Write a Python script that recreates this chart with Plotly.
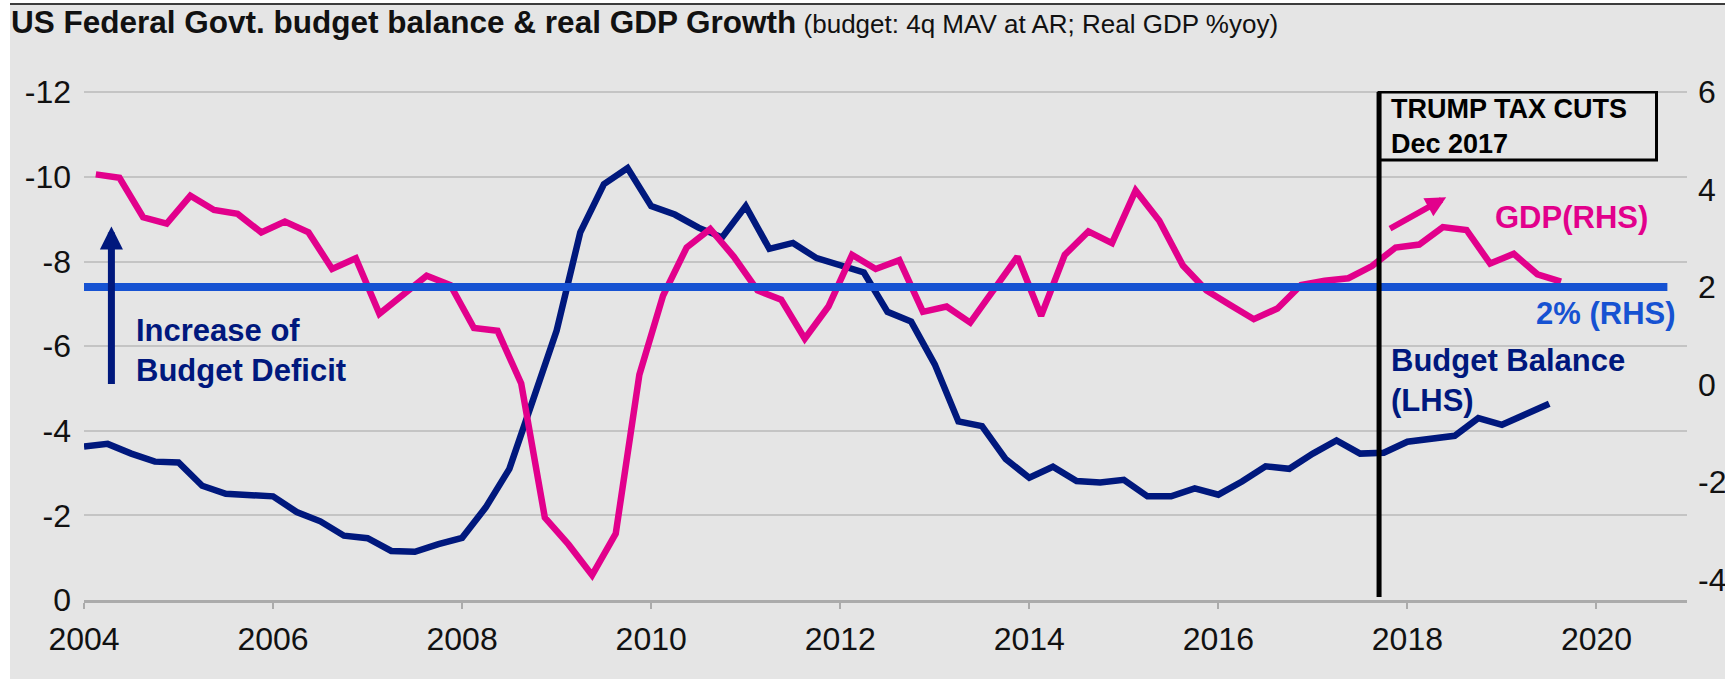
import plotly.graph_objects as go

# ---------------- data ----------------
QUARTERS = [f"{y}Q{q}" for y in range(2004, 2020) for q in range(1, 5)][:63]

# Federal budget balance, % of GDP, 4q moving average (LHS, inverted)
BUDGET_BALANCE = [
    -3.63, -3.69, -3.46, -3.27,
    -3.25, -2.70, -2.51, -2.49,
    -2.45, -2.08, -1.86, -1.52,
    -1.46, -1.16, -1.14, -1.32,
    -1.47, -2.19, -3.10, -4.73,
    -6.37, -8.69, -9.83, -10.21,
    -9.31, -9.11, -8.80, -8.57,
    -9.31, -8.30, -8.44, -8.08,
    -7.90, -7.74, -6.81, -6.58,
    -5.57, -4.22, -4.11, -3.33,
    -2.89, -3.15, -2.81, -2.78,
    -2.84, -2.45, -2.45, -2.64,
    -2.49, -2.80, -3.16, -3.10,
    -3.46, -3.77, -3.46, -3.48,
    -3.74, -3.81, -3.88, -4.30,
    -4.14, -4.39, -4.64,
]

# Real GDP growth, % y/y (RHS)
GDP_GROWTH = [
    4.31, 4.24, 3.43, 3.30,
    3.87, 3.58, 3.50, 3.12,
    3.34, 3.12, 2.37, 2.59,
    1.45, 1.85, 2.23, 2.04,
    1.16, 1.10, 0.02, -2.73,
    -3.28, -3.91, -3.06, 0.20,
    1.82, 2.81, 3.19, 2.62,
    1.93, 1.74, 0.94, 1.60,
    2.66, 2.37, 2.55, 1.49,
    1.60, 1.27, 1.93, 2.62,
    1.41, 2.66, 3.14, 2.90,
    3.98, 3.36, 2.44, 1.93,
    1.63, 1.34, 1.56, 2.04,
    2.13, 2.18, 2.43, 2.81,
    2.87, 3.23, 3.17, 2.48,
    2.68, 2.26, 2.11,
]

TARGET_GROWTH = 2.0
TARGET_SPAN = [2004.0, 2020.75]

X_TICKS = [2004, 2006, 2008, 2010, 2012, 2014, 2016, 2018, 2020]
LEFT_TICKS = [0, -2, -4, -6, -8, -10, -12]
RIGHT_TICKS = [-4, -2, 0, 2, 4, 6]

TAX_CUT_DATE = 2017.70

# positions: budget at quarter start, GDP at mid-quarter
budget_x = [int(q[:4]) + (int(q[-1]) - 1) / 4 for q in QUARTERS]
gdp_x = [v + 0.125 for v in budget_x]

# ---------------- style ----------------
W, H = 1725, 679
ML, MR, MT, MB = 84, 38, 91, 79
PW, PH = W - ML - MR, H - MT - MB
PX_PER_YEAR = 94.53

NAVY = "#00187D"
PINK = "#E2008C"
BLUE = "#1652D2"
BG = "#E5E5E5"
GRID = "#C4C4C4"
FONT = "Liberation Sans, Arial, sans-serif"
TICK_SIZE = 32


def px_x(px):
    return (px - ML) / PW


def px_y(py):
    return (H - MB - py) / PH


fig = go.Figure()

fig.add_trace(go.Scatter(x=budget_x, y=BUDGET_BALANCE, mode="lines",
                         line=dict(color=NAVY, width=6.5), yaxis="y",
                         name="Budget Balance (LHS)", showlegend=False))
fig.add_trace(go.Scatter(x=gdp_x, y=GDP_GROWTH, mode="lines",
                         line=dict(color=PINK, width=6.5), yaxis="y2",
                         name="GDP (RHS)", showlegend=False))
fig.add_trace(go.Scatter(x=TARGET_SPAN, y=[TARGET_GROWTH] * len(TARGET_SPAN),
                         mode="lines", line=dict(color=BLUE, width=8),
                         yaxis="y2", name="2% (RHS)", showlegend=False))

shapes = [
    # white strips at left and top of the card
    dict(type="rect", xref="paper", yref="paper", layer="below",
         x0=px_x(0), x1=px_x(10), y0=px_y(H), y1=px_y(0),
         fillcolor="white", line=dict(width=0)),
    dict(type="rect", xref="paper", yref="paper", layer="below",
         x0=px_x(0), x1=px_x(W), y0=px_y(3), y1=px_y(0),
         fillcolor="white", line=dict(width=0)),
    dict(type="line", xref="paper", yref="paper", layer="above",
         x0=px_x(10), x1=px_x(W), y0=px_y(4), y1=px_y(4),
         line=dict(color="#3C3C3C", width=2)),
    # tax cut vertical marker and box
    dict(type="line", xref="x", yref="y domain", layer="above",
         x0=TAX_CUT_DATE, x1=TAX_CUT_DATE, y0=0.006, y1=0.998,
         line=dict(color="black", width=5)),
    dict(type="rect", xref="x", yref="y2", layer="above",
         x0=TAX_CUT_DATE, x1=2020.635, y0=4.605, y1=6.0,
         line=dict(color="black", width=3), fillcolor="rgba(0,0,0,0)"),
]

annotations = [
    dict(text="<b>Increase of<br>Budget Deficit</b>", x=2004.53, y=-5.89,
         xref="x", yref="y", xanchor="left", yanchor="middle", align="left",
         showarrow=False, font=dict(family=FONT, size=31, color=NAVY)),
    dict(text="<b>Budget Balance<br>(LHS)</b>", x=2017.80, y=-5.19,
         xref="x", yref="y", xanchor="left", yanchor="middle", align="left",
         showarrow=False, font=dict(family=FONT, size=31, color=NAVY)),
    dict(text="<b>GDP(RHS)</b>", x=2018.90, y=3.43,
         xref="x", yref="y2", xanchor="left", yanchor="middle",
         showarrow=False, font=dict(family=FONT, size=31, color=PINK)),
    dict(text="<b>2% (RHS)</b>", x=2020.86, y=1.45,
         xref="x", yref="y2", xanchor="right", yanchor="middle",
         showarrow=False, font=dict(family=FONT, size=31, color=BLUE)),
    dict(text="<b>TRUMP TAX CUTS<br>Dec 2017</b>", x=2017.80, y=5.29,
         xref="x", yref="y2", xanchor="left", yanchor="middle", align="left",
         showarrow=False, font=dict(family=FONT, size=27, color="black")),
    # arrows
    dict(text="", x=2004.29, y=-8.83, ax=2004.29, ay=-5.07,
         xref="x", yref="y", axref="x", ayref="y",
         showarrow=True, arrowhead=2, arrowsize=0.66, arrowwidth=7,
         arrowcolor=NAVY, standoff=0),
    dict(text="", x=2018.41, y=3.84, ax=2017.80, ay=3.18,
         xref="x", yref="y2", axref="x", ayref="y2",
         showarrow=True, arrowhead=2, arrowsize=0.68, arrowwidth=6,
         arrowcolor=PINK, standoff=0),
]

fig.update_layout(
    width=W, height=H,
    margin=dict(l=ML, r=MR, t=MT, b=MB, pad=0, autoexpand=False),
    paper_bgcolor=BG, plot_bgcolor="rgba(0,0,0,0)",
    font=dict(family=FONT, color="#111111"),
    title=dict(
        text="<b>US Federal Govt. budget balance & real GDP Growth</b>"
             "<span style='font-size:26px'> (budget: 4q MAV at AR; Real GDP %yoy)</span>",
        x=11 / W, y=1 - 22 / H, xref="container", yref="container",
        xanchor="left", yanchor="middle",
        font=dict(family=FONT, size=31.5, color="#111111"),
    ),
    xaxis=dict(range=[2004, 2004 + PW / PX_PER_YEAR],
               tickvals=X_TICKS, ticktext=[str(t) for t in X_TICKS],
               showgrid=False, zeroline=False,
               showline=True, linecolor="#ABABAB", linewidth=2.5,
               ticks="outside", ticklen=6, tickwidth=1.5, tickcolor="#ABABAB",
               tickfont=dict(size=TICK_SIZE, color="#111111"), ticklabelstandoff=3),
    yaxis=dict(range=[0, -12.03], tickvals=LEFT_TICKS,
               ticktext=[str(t) for t in LEFT_TICKS],
               showgrid=True, gridcolor=GRID, gridwidth=2, zeroline=False,
               ticks="", tickfont=dict(size=TICK_SIZE, color="#111111"),
               ticklabelstandoff=12),
    yaxis2=dict(range=[-4.42, 6.02], overlaying="y", side="right",
                tickvals=RIGHT_TICKS, ticktext=[str(t) for t in RIGHT_TICKS],
                showgrid=False, zeroline=False, ticks="",
                tickfont=dict(size=TICK_SIZE, color="#111111"),
                ticklabelstandoff=10),
    shapes=shapes,
    annotations=annotations,
    showlegend=False,
)

fig.write_html("out.html")
